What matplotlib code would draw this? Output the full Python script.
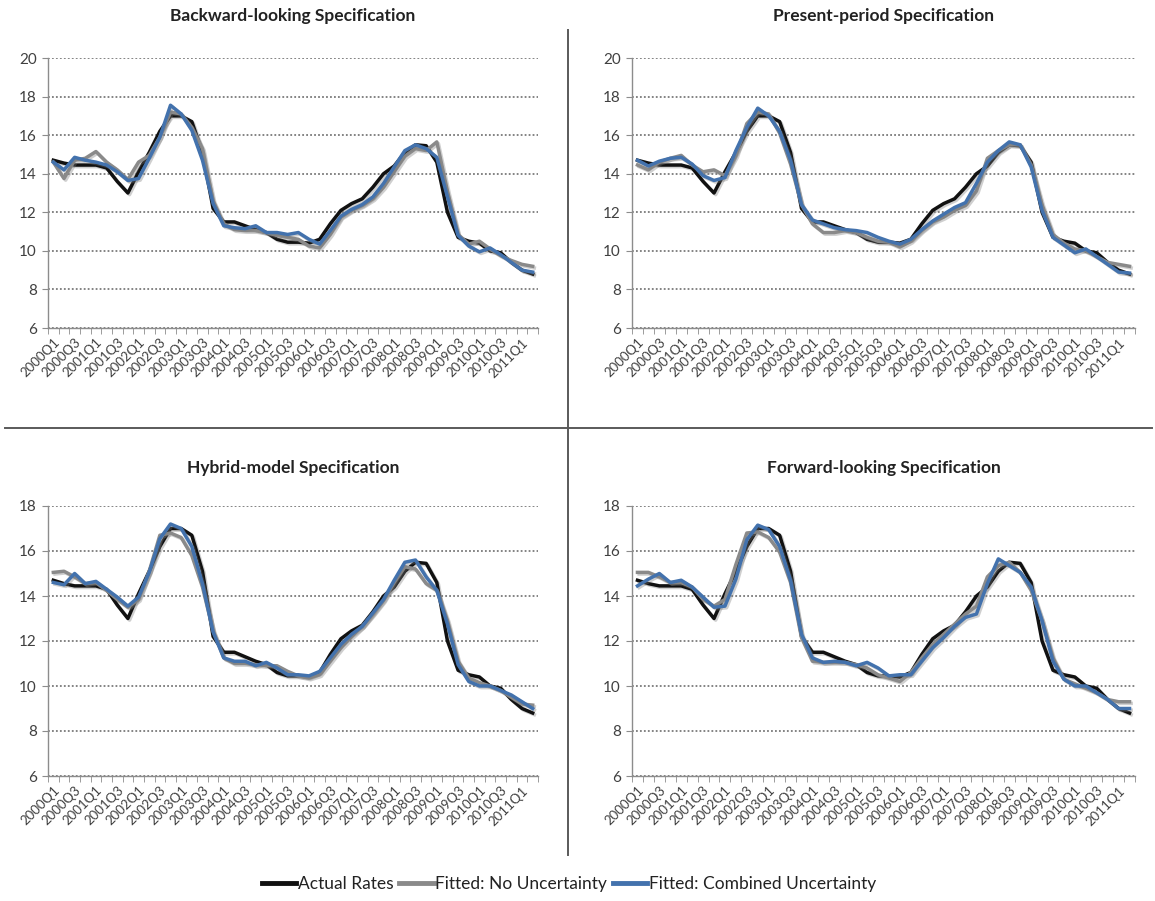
import matplotlib
matplotlib.use("Agg")
import matplotlib.pyplot as plt
import matplotlib.patheffects as pe
from matplotlib import font_manager
from matplotlib.lines import Line2D
import numpy as np

# quarterly sample, 2000Q1 .. 2011Q2
quarters = [f"{y}Q{q}" for y in range(2000, 2012) for q in range(1, 5)][:46]

actual = [14.7, 14.55, 14.45, 14.45, 14.45, 14.3, 13.6, 13.0, 14.1, 15.1,
          16.2, 17.0, 17.0, 16.7, 15.1, 12.2, 11.5, 11.5, 11.3, 11.1,
          10.95, 10.6, 10.45, 10.45, 10.4, 10.6, 11.4, 12.1, 12.45, 12.7,
          13.3, 14.0, 14.4, 15.1, 15.5, 15.45, 14.6, 12.0, 10.7, 10.5,
          10.4, 10.0, 9.9, 9.4, 9.0, 8.8]

bw_fit_no = [14.6, 13.75, 14.7, 14.8, 15.15, 14.6, 14.2, 13.7, 14.6, 14.95,
             15.9, 17.2, 17.1, 16.4, 15.3, 12.6, 11.4, 11.1, 11.05, 11.05,
             10.95, 10.8, 10.7, 10.6, 10.25, 10.15, 10.85, 11.75, 12.1, 12.35,
             12.7, 13.3, 14.1, 14.9, 15.3, 15.2, 15.65, 13.1, 10.85, 10.35,
             10.5, 10.1, 9.75, 9.5, 9.3, 9.2]
bw_fit_comb = [14.6, 14.2, 14.85, 14.7, 14.6, 14.45, 14.1, 13.65, 13.75, 14.8,
               15.9, 17.55, 17.1, 16.25, 14.7, 12.45, 11.3, 11.2, 11.15, 11.3,
               10.95, 10.95, 10.85, 10.95, 10.6, 10.35, 11.05, 11.8, 12.15, 12.4,
               12.8, 13.5, 14.35, 15.2, 15.5, 15.3, 14.85, 12.8, 10.8, 10.25,
               9.95, 10.15, 9.8, 9.4, 9.0, 8.9]

pp_fit_no = [14.45, 14.2, 14.6, 14.8, 14.95, 14.45, 14.1, 14.2, 13.9, 14.95,
             16.6, 17.2, 17.1, 16.1, 14.5, 12.4, 11.4, 10.95, 10.95, 11.05,
             10.95, 10.7, 10.5, 10.45, 10.2, 10.5, 11.05, 11.5, 11.75, 12.1,
             12.35, 13.1, 14.8, 15.2, 15.5, 15.5, 14.45, 12.4, 10.85, 10.4,
             10.1, 10.0, 9.7, 9.4, 9.3, 9.2]
pp_fit_comb = [14.7, 14.4, 14.65, 14.8, 14.85, 14.5, 13.9, 13.65, 13.8, 15.2,
               16.4, 17.4, 17.0, 16.2, 14.7, 12.4, 11.6, 11.4, 11.2, 11.1,
               11.05, 10.95, 10.7, 10.5, 10.35, 10.6, 11.1, 11.55, 11.9, 12.25,
               12.5, 13.5, 14.6, 15.2, 15.65, 15.5, 14.35, 12.1, 10.7, 10.3,
               9.9, 10.1, 9.7, 9.3, 8.9, 8.85]

hy_fit_no = [15.05, 15.1, 14.85, 14.55, 14.6, 14.25, 13.85, 13.5, 13.85, 15.1,
             16.7, 16.8, 16.6, 15.8, 14.4, 12.45, 11.25, 11.0, 11.0, 10.95,
             10.9, 10.9, 10.65, 10.45, 10.35, 10.5, 11.1, 11.7, 12.2, 12.65,
             13.2, 13.8, 14.6, 15.3, 15.2, 14.55, 14.25, 12.9, 11.1, 10.35,
             10.15, 10.0, 9.8, 9.5, 9.2, 9.15]
hy_fit_comb = [14.6, 14.5, 15.0, 14.55, 14.65, 14.3, 13.95, 13.55, 13.95, 15.05,
               16.55, 17.2, 17.0, 16.2, 14.55, 12.4, 11.25, 11.1, 11.1, 10.9,
               11.05, 10.8, 10.5, 10.5, 10.45, 10.65, 11.25, 11.85, 12.3, 12.65,
               13.25, 13.85, 14.7, 15.5, 15.6, 14.85, 14.25, 12.75, 10.95, 10.2,
               10.0, 10.0, 9.8, 9.6, 9.3, 9.0]

fw_fit_no = [15.05, 15.05, 14.85, 14.6, 14.6, 14.4, 13.85, 13.55, 13.85, 15.4,
             16.8, 16.85, 16.6, 15.95, 14.6, 12.15, 11.1, 11.05, 11.05, 11.05,
             10.95, 10.8, 10.5, 10.35, 10.2, 10.6, 11.25, 11.85, 12.3, 12.75,
             13.2, 13.55, 14.85, 15.35, 15.5, 15.05, 14.25, 12.9, 11.25, 10.3,
             10.1, 9.9, 9.7, 9.4, 9.3, 9.3]
fw_fit_comb = [14.45, 14.75, 15.0, 14.6, 14.7, 14.4, 13.95, 13.5, 13.55, 14.75,
               16.5, 17.15, 16.95, 16.2, 14.7, 12.3, 11.25, 11.05, 11.1, 11.05,
               10.9, 11.05, 10.8, 10.45, 10.5, 10.5, 11.1, 11.7, 12.15, 12.65,
               13.05, 13.2, 14.55, 15.65, 15.35, 15.05, 14.4, 12.9, 11.1, 10.3,
               10.0, 10.0, 9.7, 9.4, 9.0, 9.0]

titles = ["Backward-looking Specification", "Present-period Specification",
          "Hybrid-model Specification", "Forward-looking Specification"]
series_names = ["Actual Rates", "Fitted: No Uncertainty", "Fitted: Combined Uncertainty"]
colors = ["#111111", "#8a8a8a", "#4372ad"]

# narrow font if we have one, otherwise Lato
names = {f.name for f in font_manager.fontManager.ttflist}
font = "Liberation Sans Narrow" if "Liberation Sans Narrow" in names else "Lato"
plt.rcParams["font.family"] = [font, "DejaVu Sans"]

W, H = 1155, 901
fig = plt.figure(figsize=(W / 100, H / 100), dpi=100)


def px_axes(x0, y0, x1, y1):
    return fig.add_axes([x0 / W, 1 - y1 / H, (x1 - x0) / W, (y1 - y0) / H])


panels = [
    (px_axes(48, 58, 538, 328), bw_fit_no, bw_fit_comb, (6, 20), 27),
    (px_axes(632, 58, 1135, 328), pp_fit_no, pp_fit_comb, (6, 20), 27),
    (px_axes(48, 506, 538, 776), hy_fit_no, hy_fit_comb, (6, 18), 24),
    (px_axes(632, 506, 1135, 776), fw_fit_no, fw_fit_comb, (6, 18), 24),
]

x = np.arange(len(quarters))
shadow = [pe.SimpleLineShadow(offset=(1.2, -1.2), shadow_color="#777777", alpha=0.35),
          pe.Normal()]

for (ax, fit_no, fit_comb, ylim, tpad), title in zip(panels, titles):
    for vals, c in zip([actual, fit_no, fit_comb], colors):
        ax.plot(x, vals, color=c, lw=2.5, solid_joinstyle="round",
                path_effects=shadow)
    ax.set_xlim(-0.5, len(quarters) - 0.5)
    ax.set_ylim(*ylim)
    ax.set_yticks(np.arange(ylim[0], ylim[1] + 0.1, 2))
    ax.yaxis.grid(True, linestyle=(0, (1, 1.2)), color="#7a7a7a", lw=1.3)
    ax.set_axisbelow(True)
    for s in ["top", "right"]:
        ax.spines[s].set_visible(False)
    for s in ["left", "bottom"]:
        ax.spines[s].set_color("#8c8c8c")
        ax.spines[s].set_linewidth(1.0)
    ax.set_xticks(x[::2])
    ax.set_xticklabels(quarters[::2], rotation=45, ha="right", va="top",
                       rotation_mode="anchor", fontsize=9.5, color="#404040")
    ax.set_xticks(np.arange(-0.5, len(quarters)), minor=True)
    ax.tick_params(axis="x", which="major", length=0, pad=6)
    ax.tick_params(axis="x", which="minor", length=4, color="#8c8c8c", direction="out")
    ax.tick_params(axis="y", length=4, color="#8c8c8c", labelsize=11, labelcolor="#404040", pad=4)
    ax.set_title(title, fontsize=12.5, fontweight="bold", color="#222222", pad=tpad)

# separators between the four panels
fig.add_artist(Line2D([568 / W, 568 / W], [1 - 30 / H, 1 - 855 / H],
                      transform=fig.transFigure, color="#5a5a5a", lw=1.4))
fig.add_artist(Line2D([5 / W, 1152 / W], [1 - 428 / H, 1 - 428 / H],
                      transform=fig.transFigure, color="#5a5a5a", lw=1.4))

handles = [Line2D([], [], color=c, lw=3.5) for c in colors]
fig.legend(handles, series_names, loc="center", bbox_to_anchor=(569 / W, 1 - 884 / H),
           ncol=3, frameon=False, fontsize=12.5, handlelength=2.0, handletextpad=0.1,
           columnspacing=0.3, labelcolor="#222222")

fig.savefig("out.png", dpi=100)
